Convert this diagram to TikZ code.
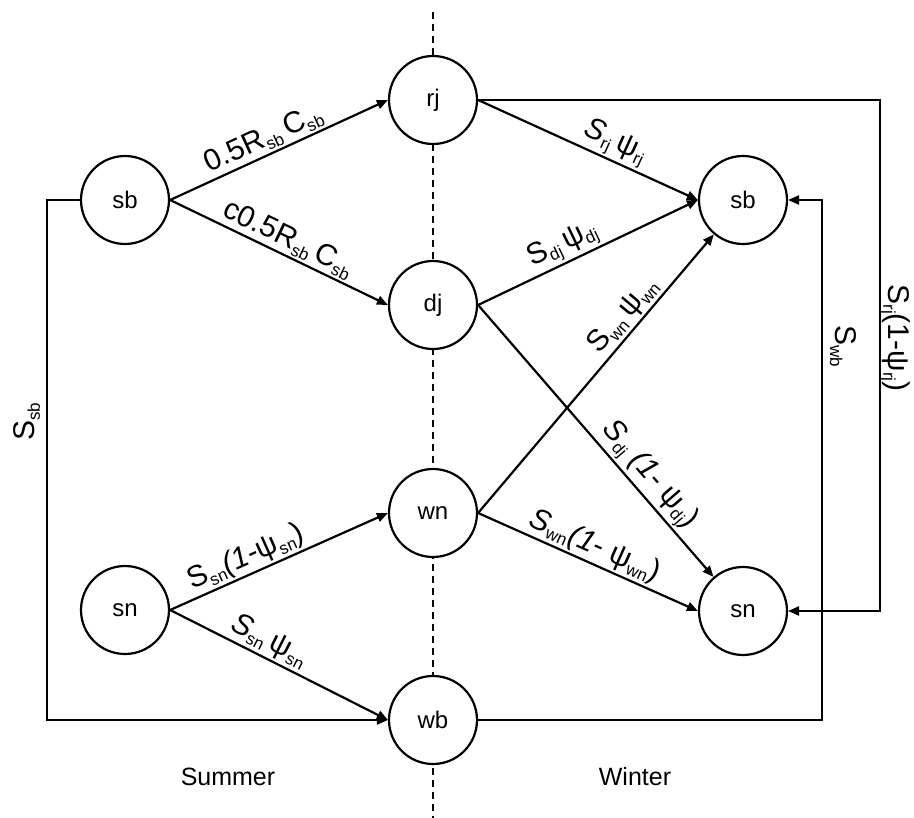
\documentclass[tikz,border=0pt]{standalone}
\usepackage{fontspec}
\setmainfont{Liberation Sans}
\usetikzlibrary{arrows.meta}
\newcommand{\sbs}[1]{\raisebox{-5pt}{\fontsize{17}{17}\selectfont #1}}
\begin{document}
\begin{tikzpicture}[x=1pt,y=-1pt,
  state/.style={circle,draw,line width=2.2pt,fill=white,minimum size=88pt,inner sep=0pt,font=\fontsize{24}{24}\selectfont},
  arr/.style={line width=2.2pt,-{Triangle[length=11pt,width=9pt]}},
  lbl/.style={font=\fontsize{30}{30}\selectfont,inner sep=2pt,sloped,above},
  vlbl/.style={font=\fontsize{30}{30}\selectfont,inner sep=0pt},
  season/.style={font=\fontsize{25}{25}\selectfont},
  divider/.style={line width=1.3pt,dash pattern=on 7pt off 5pt}]
\fill[white] (0,0) rectangle (914,818);
\useasboundingbox (0,0) rectangle (914,818);
% divider
\coordinate (dtop) at (433,12);
\coordinate (dbot) at (433,818);
\draw[divider] (dtop) -- (dbot);
% states
\node[state] (sbL) at (125,200) {sb};
\node[state] (snL) at (125,610) {sn};
\node[state] (rj) at (433,100) {rj};
\node[state] (dj) at (433,305) {dj};
\node[state] (wn) at (433,513) {wn};
\node[state] (wb) at (433,720) {wb};
\node[state] (sbR) at (743,200) {sb};
\node[state] (snR) at (743,611) {sn};
% straight transitions
\draw[arr] (sbL.east) -- node[lbl,pos=0.46] (l1) {0.5R\sbs{sb}\,C\sbs{sb}} (rj.west);
\draw[arr] (sbL.east) -- node[lbl,pos=0.51] (l2) {c0.5R\sbs{sb}\,C\sbs{sb}} (dj.west);
\draw[arr] (rj.east) -- node[lbl,pos=0.59] (l3) {\textit{S}\sbs{rj}\,ψ\sbs{rj}} (sbR.west);
\draw[arr] (dj.east) -- node[lbl,pos=0.42] (l4) {S\sbs{dj}\,ψ\sbs{dj}} (sbR.west);
\draw[arr] (wn.east) -- node[lbl,pos=0.67] (l5) {S\sbs{wn}\,ψ\sbs{wn}} (sbR);
\draw[arr] (dj.east) -- node[lbl,pos=0.67] (l6) {\textit{S}\sbs{dj} \textit{(1-} ψ\sbs{dj})} (snR);
\draw[arr] (wn.east) -- node[lbl,pos=0.5] (l7) {\textit{S}\sbs{wn}\textit{(1-} ψ\sbs{wn})} (snR.west);
\draw[arr] (snL.east) -- node[lbl,pos=0.38] (l8) {S\sbs{sn}\textit{(1-}ψ\sbs{sn})} (wn.west);
\draw[arr] (snL.east) -- node[lbl,pos=0.42] (l9) {\textit{S}\sbs{sn}\,ψ\sbs{sn}} (wb.west);
% elbow transitions
\draw[arr] (sbL.west) -- ++(-33,0) |- (wb.west);
\draw[arr] (wb.east) -- ++(344,0) |- (sbR.east);
\draw[arr] (rj.east) -- ++(402,0) |- (snR.east);
% vertical labels
\node[vlbl,rotate=90] (lsb) at (27,422) {S\sbs{sb}};
\node[vlbl,rotate=-90] (lwb) at (843,346) {S\sbs{wb}};
\node[vlbl,rotate=-90] (lrj) at (895,338) {S\sbs{rj}(1-ψ\sbs{rj})};
% seasons
\node[season] (summer) at (228,777) {Summer};
\node[season] (winter) at (635,777) {Winter};
\end{tikzpicture}
\end{document}
